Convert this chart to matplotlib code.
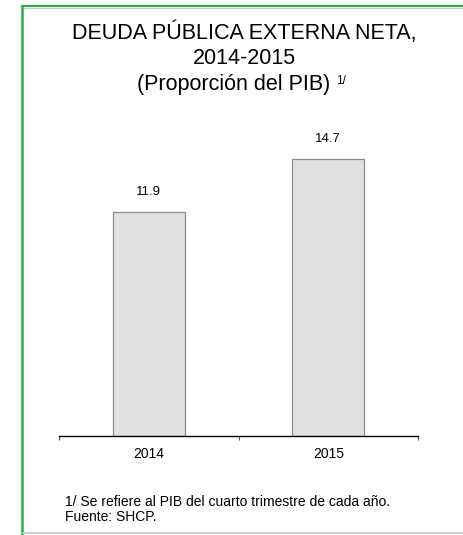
import matplotlib
matplotlib.use("Agg")
import matplotlib.pyplot as plt
from matplotlib.lines import Line2D

years = ["2014", "2015"]
values = [11.9, 14.7]
value_labels = ["11.9", "14.7"]

title_lines = ["DEUDA PÚBLICA EXTERNA NETA,", "2014-2015"]
subtitle = "(Proporción del PIB)"
footnotes = ["1/ Se refiere al PIB del cuarto trimestre de cada año.", "Fuente: SHCP."]

plt.rcParams["font.family"] = ["Liberation Sans", "DejaVu Sans"]

W, H = 464, 535
fig = plt.figure(figsize=(W / 100, H / 100), dpi=100, facecolor="white")


def fx(px):
    return px / W


def fy(py):
    return 1 - py / H


# frame lines
green = "#22b04b"
fig.add_artist(Line2D([fx(22), 1], [fy(6), fy(6)], color=green, lw=1.5))
fig.add_artist(Line2D([fx(22), 1], [fy(7.5), fy(7.5)], color="#c8c8c8", lw=0.8))
fig.add_artist(Line2D([fx(22), fx(22)], [fy(6), fy(534)], color=green, lw=1.8))
fig.add_artist(Line2D([fx(23), 1], [fy(533), fy(533)], color="#c8c8c8", lw=1.2))

ax = fig.add_axes([fx(59), fy(436), fx(418) - fx(59), fy(130) - fy(436)])
x = range(len(years))
bars = ax.bar(x, values, width=0.40, color="#e1e1e1", edgecolor="#8c8c8c", linewidth=0.9)
ax.set_xlim(-0.5, 1.5)
ax.set_ylim(0, 306 / 18.84)

for b, lab in zip(bars, value_labels):
    ax.annotate(lab, (b.get_x() + b.get_width() / 2, b.get_height()),
                xytext=(0, 10), textcoords="offset points",
                ha="center", va="bottom", fontsize=9.5)

for s in ["top", "right", "left"]:
    ax.spines[s].set_visible(False)
ax.spines["bottom"].set_linewidth(1.0)
ax.set_yticks([])
ax.set_xticks(list(x))
ax.set_xticklabels(years, fontsize=10)
ax.tick_params(axis="x", which="major", length=0, pad=8)
ax.set_xticks([-0.5, 0.5, 1.5], minor=True)
ax.tick_params(axis="x", which="minor", length=3, width=0.8, color="#555555")

fig.text(fx(244), fy(39), title_lines[0], ha="center", va="baseline", fontsize=15.5)
fig.text(fx(244), fy(64), title_lines[1], ha="center", va="baseline", fontsize=15.5)
sub = fig.text(fx(234), fy(90), subtitle, ha="center", va="baseline", fontsize=15.5)

fig.canvas.draw()
bb = sub.get_window_extent()
fig.text((bb.x1 + 5) / W, fy(81.5), "1/", ha="left", va="center", fontsize=8.5)

fig.text(fx(65), fy(502), footnotes[0], ha="left", va="center", fontsize=10)
fig.text(fx(65), fy(517), footnotes[1], ha="left", va="center", fontsize=10)

fig.savefig("out.png", dpi=100, facecolor="white")
